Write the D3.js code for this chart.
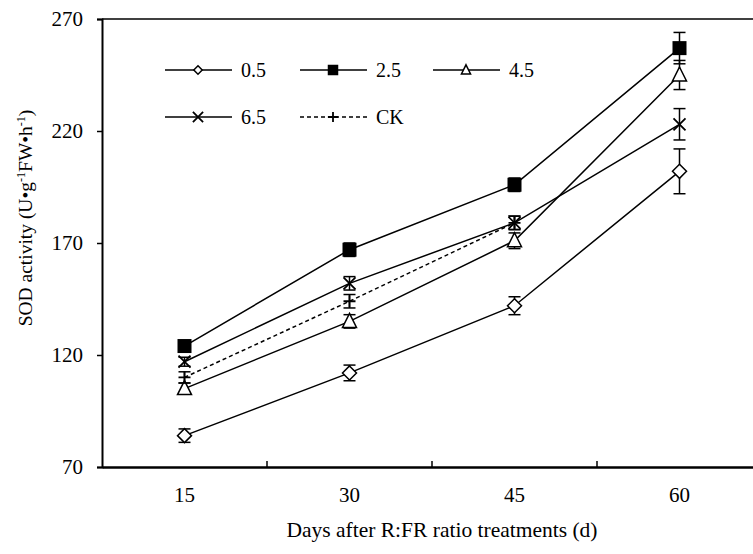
<!DOCTYPE html>
<html>
<head>
<meta charset="utf-8">
<script src="https://cdn.jsdelivr.net/npm/d3@7"></script>
<style>
body { margin: 0; background: #fff; }
svg text { font-family: "Liberation Serif", "Times New Roman", serif; fill: #000; }
</style>
</head>
<body>
<div id="chart"></div>
<script>
var days = ["15", "30", "45", "60"];
var yTicks = [70, 120, 170, 220, 270];

// mean values per treatment (one value per day, null = not shown)
var s05 = [84, 112, 142, 202];
var s25 = [124, 167, 196, 257];
var s45 = [105, 135, 171, 245];
var s65 = [117, 152, 179, 223];
var sCK = [110, 144, 179, null];

// standard error bars
var e05 = [3, 3.5, 4, 10];
var e25 = [2, 3, 3, 7];
var e45 = [2.5, 3, 3.5, 6.5];
var e65 = [2, 3, 3, 7];
var eCK = [2.5, 3, 3, null];

var series = [
	{name: "0.5", values: s05, err: e05, marker: "diamond", dash: null},
	{name: "2.5", values: s25, err: e25, marker: "square", dash: null},
	{name: "4.5", values: s45, err: e45, marker: "triangle", dash: null},
	{name: "6.5", values: s65, err: e65, marker: "cross", dash: null},
	{name: "CK", values: sCK, err: eCK, marker: "plus", dash: "4,3"}
];

var svgWidth = 753, svgHeight = 554;
var margin = {top: 19, left: 102, bottom: 87};
var plotW = 660, plotH = svgHeight - margin.top - margin.bottom;
var serif = "'Liberation Serif', 'Times New Roman', serif";

var svg = d3.select("#chart").append("svg")
	.attr("width", svgWidth)
	.attr("height", svgHeight);

var g = svg.append("g")
	.attr("transform", "translate(" + margin.left + "," + margin.top + ")");

var x = d3.scaleBand().domain(days).range([0, plotW]);
var y = d3.scaleLinear().domain([70, 270]).range([plotH, 0]);
function cx(i) { return x(days[i]) + x.bandwidth() / 2; }

// frame (top and right edge)
g.append("line").attr("x1", 0).attr("x2", plotW).attr("y1", 0).attr("y2", 0)
	.attr("stroke", "#000").attr("stroke-width", 1.5);
g.append("line").attr("x1", plotW).attr("x2", plotW).attr("y1", 0).attr("y2", plotH)
	.attr("stroke", "#000").attr("stroke-width", 1.5);

// y axis
var yAxis = g.append("g").call(d3.axisLeft(y).tickValues(yTicks).tickSize(5).tickPadding(14));
yAxis.attr("font-family", null);
yAxis.select(".domain").attr("stroke-width", 2);
yAxis.selectAll(".tick line").attr("stroke-width", 1.5);
yAxis.selectAll("text").style("font-size", "21px").style("font-family", serif);

// x axis with ticks between categories pointing inward
var xAxis = g.append("g").attr("transform", "translate(0," + plotH + ")")
	.call(d3.axisBottom(x).tickSize(0).tickPadding(20));
xAxis.attr("font-family", null);
xAxis.select(".domain").attr("stroke-width", 2.5);
xAxis.selectAll("text").style("font-size", "21px").style("font-family", serif);
g.selectAll(".sep").data(days.slice(1)).enter().append("line")
	.attr("x1", function(d) { return x(d); }).attr("x2", function(d) { return x(d); })
	.attr("y1", plotH).attr("y2", plotH - 6)
	.attr("stroke", "#000").attr("stroke-width", 1.5);

function drawMarker(sel, type, px, py, k) {
	var m = sel.append("g").attr("transform", "translate(" + px + "," + py + ") scale(" + k + ")");
	if (type === "diamond") {
		m.append("path").attr("d", "M0,-7L7,0L0,7L-7,0Z")
			.attr("fill", "#fff").attr("stroke", "#000").attr("stroke-width", 1.5 / k);
	} else if (type === "square") {
		m.append("rect").attr("x", -7).attr("y", -7).attr("width", 14).attr("height", 14)
			.attr("fill", "#000");
	} else if (type === "triangle") {
		m.append("path").attr("d", "M0,-8L7,6L-7,6Z")
			.attr("fill", "#fff").attr("stroke", "#000").attr("stroke-width", 1.5 / k);
	} else if (type === "cross") {
		m.append("path").attr("d", "M-6,-6L6,6M-6,6L6,-6")
			.attr("stroke", "#000").attr("stroke-width", 1.8 / k);
	} else if (type === "plus") {
		m.append("path").attr("d", "M-6,0L6,0M0,-6L0,6")
			.attr("stroke", "#000").attr("stroke-width", 1.8 / k);
	}
}

var line = d3.line()
	.defined(function(d) { return d != null; })
	.x(function(d, i) { return cx(i); })
	.y(function(d) { return y(d); });

series.forEach(function(s) {
	g.append("path")
		.attr("d", line(s.values))
		.attr("fill", "none")
		.attr("stroke", "#000")
		.attr("stroke-width", 1.5)
		.attr("stroke-dasharray", s.dash);
});

series.forEach(function(s) {
	s.values.forEach(function(v, i) {
		if (v == null) return;
		var px = cx(i), e = s.err[i];
		var eb = g.append("g").attr("stroke", "#000").attr("stroke-width", 1.5);
		eb.append("line").attr("x1", px).attr("x2", px).attr("y1", y(v - e)).attr("y2", y(v + e));
		eb.append("line").attr("x1", px - 6).attr("x2", px + 6).attr("y1", y(v - e)).attr("y2", y(v - e));
		eb.append("line").attr("x1", px - 6).attr("x2", px + 6).attr("y1", y(v + e)).attr("y2", y(v + e));
		drawMarker(g, s.marker, px, y(v), 1);
	});
});

// legend
var legendPos = [[165, 70], [300, 70], [433, 70], [165, 117], [300, 117]];
var legendScale = {diamond: 0.6, square: 0.75, triangle: 0.65, cross: 0.85, plus: 0.85};
series.forEach(function(s, i) {
	var lx = legendPos[i][0], ly = legendPos[i][1];
	svg.append("line").attr("x1", lx).attr("x2", lx + 67).attr("y1", ly).attr("y2", ly)
		.attr("stroke", "#000").attr("stroke-width", 1.5)
		.attr("stroke-dasharray", s.dash);
	drawMarker(svg, s.marker, lx + 33, ly, legendScale[s.marker]);
	svg.append("text").attr("x", lx + 76).attr("y", ly + 7)
		.style("font-size", "20px").text(s.name);
});

// axis titles
svg.append("text").attr("x", 442).attr("y", 537)
	.attr("text-anchor", "middle").style("font-size", "21.5px")
	.text("Days after R:FR ratio treatments (d)");

var yl = svg.append("text")
	.attr("transform", "translate(32,218) rotate(-90)")
	.attr("text-anchor", "middle").style("font-size", "19.5px");
yl.append("tspan").text("SOD activity  (U\u2022g");
yl.append("tspan").attr("baseline-shift", "super").style("font-size", "12px").text("-1");
yl.append("tspan").text("FW\u2022h");
yl.append("tspan").attr("baseline-shift", "super").style("font-size", "12px").text("-1");
yl.append("tspan").text(")");
</script>
</body>
</html>
